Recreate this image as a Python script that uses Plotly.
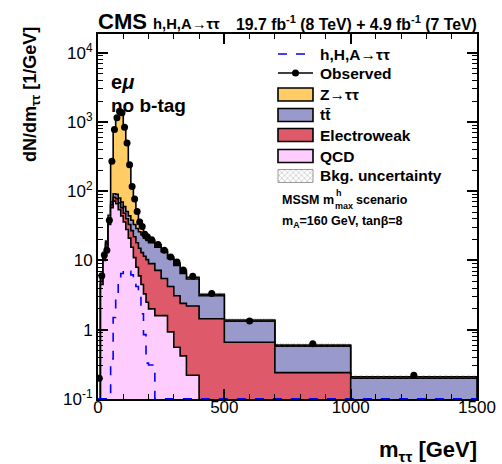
import numpy as np
import plotly.graph_objects as go

# ---------------- data ----------------
bin_edges = [0, 10, 20, 30, 40, 50, 60, 70, 80, 90, 100, 110, 120, 130, 140, 150,
             160, 170, 180, 190, 200, 225, 250, 275, 300, 325, 350, 400, 500, 700,
             1000, 1500]
qcd = [0.05, 4.5, 10, 15.5, 33, 58, 72, 66, 54, 44, 36, 28, 21, 15.5, 11, 8,
       6, 4.5, 3.3, 2.5, 2.0, 1.6, 1.6, 0.93, 0.56, 0.42, 0.22, 0, 0, 0, 0]
ewk = [0.002, 0.5, 1, 1.5, 3, 6, 10, 12, 14, 14, 12, 12, 12, 11.5, 11, 10,
       9, 8.5, 8.2, 7.8, 7.0, 5.6, 3.9, 3.27, 2.54, 1.98, 1.98, 1.44, 0.66, 0.24, 0.05]
ttbar = [0.003, 0.5, 1, 1, 2, 6, 10, 12, 12, 12, 12, 11, 11, 11, 11, 11,
         11, 10.5, 9.5, 9.2, 9.0, 8.3, 7.9, 6.5, 5.4, 4.1, 3.2, 1.66, 0.67, 0.34, 0.15]
ztt = [0.005, 0.5, 1, 1, 7, 195, 678, 1110, 1320, 1230, 800, 439, 201, 84, 43, 23,
       12, 7.5, 4.5, 3.0, 1.5, 1.3, 0.8, 0.5, 0.7, 0.7, 0.3, 0.15, 0.05, 0.02, 0.01]
signal = [0, 0, 0, 0, 0, 0.38, 1.5, 3.2, 5.3, 6.5, 7.2, 7.3, 7.0, 6.2, 5.3, 4.2,
          3.2, 1.7, 0.85, 0.33, 0.31, 0, 0, 0, 0, 0, 0, 0, 0, 0, 0]
observed = [0.2, 6, 12, 14, 38, 270, 776, 1150, 1430, 1360, 840, 497, 241, 117, 77, 51,
            36, 31, 24, 22, 20, 17, 14, 11.2, 9.5, 7.3, 5.9, 3.33, 1.34, 0.63, 0.22]
bkg_unc_rel = 0.07

x_tick_vals = [0, 500, 1000, 1500]
y_tick_vals = [0.1, 1, 10, 100, 1000, 10000]
y_tick_text = ["10<sup>-1</sup>", "1", "10", "10<sup>2</sup>", "10<sup>3</sup>", "10<sup>4</sup>"]

# ---------------- styling / layout constants ----------------
W, H = 502, 464
L, R, T, B = 98, 477, 34, 399          # plot area in pixels
YMIN, YMAX = -1.0, 4.27
FONT = "Liberation Sans, Arial, Helvetica, sans-serif"
C_Z, C_TT, C_EWK, C_QCD = "#FFCC66", "#9999CC", "#DE5A6A", "#FFCCFF"
FLOOR = 1e-4


def PX(px):
    return (px - L) / (R - L)


def PY(py):
    return (B - py) / (B - T)


def step_xy(edges, vals, floor=FLOOR):
    e = np.asarray(edges, float)
    v = np.where(np.asarray(vals, float) > 0, np.asarray(vals, float), floor)
    xs = [e[0]]
    ys = [floor]
    for i in range(len(v)):
        xs += [e[i], e[i + 1]]
        ys += [v[i], v[i]]
    xs.append(e[-1])
    ys.append(floor)
    return np.array(xs), np.array(ys)


edges = np.asarray(bin_edges, float)
centers = 0.5 * (edges[:-1] + edges[1:])
c1 = np.asarray(qcd, float)
c2 = c1 + np.asarray(ewk, float)
c3 = c2 + np.asarray(ttbar, float)
c4 = c3 + np.asarray(ztt, float)

fig = go.Figure()

# stacked histograms, drawn from the top layer down
for cum, col in [(c4, C_Z), (c3, C_TT), (c2, C_EWK), (c1, C_QCD)]:
    xs, ys = step_xy(edges, cum)
    fig.add_trace(go.Scatter(x=xs, y=ys, mode="lines", fill="toself", fillcolor=col,
                             line=dict(color="black", width=1.6), hoverinfo="skip",
                             showlegend=False))

# background uncertainty band (hatched)
xu, yu = step_xy(edges, c4 * (1 + bkg_unc_rel))
xl, yl = step_xy(edges, c4 * (1 - bkg_unc_rel))
bx = np.concatenate([xu[1:-1], xl[1:-1][::-1]])
by = np.concatenate([yu[1:-1], yl[1:-1][::-1]])
fig.add_trace(go.Scatter(x=bx, y=by, mode="lines", fill="toself",
                         fillcolor="rgba(0,0,0,0)", line=dict(width=0),
                         fillpattern=dict(shape="x", fgcolor="#555555", size=4,
                                          solidity=0.15, bgcolor="rgba(0,0,0,0)"),
                         hoverinfo="skip", showlegend=False))

# signal (dashed step line; empty bins drawn on the axis floor)
sig_draw = np.maximum(np.asarray(signal, float), 10 ** YMIN * 1.01)
xs, ys = step_xy(edges, sig_draw)
fig.add_trace(go.Scatter(x=xs[1:-1], y=ys[1:-1], mode="lines",
                         line=dict(color="#0000FF", width=1.6, dash="dash"),
                         hoverinfo="skip", showlegend=False))

# observed
fig.add_trace(go.Scatter(x=centers, y=observed, mode="markers",
                         marker=dict(color="black", size=7), showlegend=False))

# ---------------- legend (manual, in pixel coordinates on overlay axes) ----------------
shapes = []
ann = []


def text(px, py, s, size, bold=True, xanchor="left", yanchor="middle", angle=0):
    ann.append(dict(x=PX(px), y=PY(py), xref="paper", yref="paper",
                    text=(f"<b>{s}</b>" if bold else s), borderpad=0,
                    showarrow=False, xanchor=xanchor, yanchor=yanchor, textangle=angle,
                    font=dict(family=FONT, size=size, color="black")))


LEG = 15.5
lx0, lx1, ltx = 278, 313, 319
# signal entry
shapes.append(dict(type="line", xref="x2", yref="y2", x0=lx0, x1=lx1, y0=54, y1=54,
                   line=dict(color="#0000FF", width=1.6, dash="dash")))
text(ltx, 54, "h,H,A→ττ", LEG)
# observed entry
shapes.append(dict(type="line", xref="x2", yref="y2", x0=lx0, x1=lx1, y0=73, y1=73,
                   line=dict(color="black", width=1.6)))
fig.add_trace(go.Scatter(x=[(lx0 + lx1) / 2], y=[73], xaxis="x2", yaxis="y2", mode="markers",
                         marker=dict(color="black", size=7), showlegend=False, hoverinfo="skip"))
text(ltx, 73, "Observed", LEG)
boxes = [(94.5, C_Z, "Z→ττ"), (115, C_TT, "tt\u0304"), (135, C_EWK, "Electroweak"),
         (156, C_QCD, "QCD")]
for yc, col, lab in boxes:
    shapes.append(dict(type="rect", xref="x2", yref="y2", x0=lx0, x1=lx1, y0=yc - 6.5, y1=yc + 6.5,
                       fillcolor=col, line=dict(color="black", width=1.6)))
    text(ltx, yc, lab, LEG)
# uncertainty entry
yc = 176
fig.add_trace(go.Scatter(x=[lx0, lx1, lx1, lx0, lx0], y=[yc - 6.5, yc - 6.5, yc + 6.5, yc + 6.5, yc - 6.5],
                         xaxis="x2", yaxis="y2", mode="lines", fill="toself",
                         fillcolor="rgba(0,0,0,0)", line=dict(color="#999999", width=1),
                         fillpattern=dict(shape="x", fgcolor="#777777", size=4, solidity=0.15,
                                          bgcolor="white"),
                         showlegend=False, hoverinfo="skip"))
text(ltx, yc, "Bkg. uncertainty", LEG)
# model text (m with stacked h / max)
text(281, 200, "MSSM m", 12.5)
text(335, 193, "h", 9)
text(334, 205.5, "max", 9)
text(355, 200, "scenario", 12.5)
text(281, 222, "m<sub>A</sub>=160 GeV, tanβ=8", 12.5)

# header & labels
text(97, 21, "CMS", 22)
text(152, 23.5, "h,H,A→ττ", 14.8)
text(478, 23, "19.7 fb<sup>-1</sup> (8 TeV) + 4.9 fb<sup>-1</sup> (7 TeV)", 15.8, xanchor="right")
text(110, 82, "e<i>μ</i>", 20)
text(110, 106, "no b-tag", 19)
text(31, 95, "dN/dm<sub>ττ</sub> [1/GeV]", 18, xanchor="center", angle=-90)
text(478, 451, "m<sub>ττ</sub> [GeV]", 22, xanchor="right")

minor_y = [k * 10.0 ** n for n in range(-1, 5) for k in range(2, 10)]

fig.update_layout(
    template="none",
    width=W, height=H,
    margin=dict(l=L, r=W - R, t=T, b=H - B, pad=0, autoexpand=False),
    paper_bgcolor="white", plot_bgcolor="white",
    showlegend=False,
    font=dict(family=FONT, size=17, color="black"),
    xaxis=dict(range=[0, 1500], tickvals=x_tick_vals, ticks="inside", ticklen=10,
               tickwidth=1.5, tickcolor="black", showline=True, linecolor="black",
               linewidth=2, mirror="allticks", showgrid=False, zeroline=False,
               automargin=False,
               tickfont=dict(family=FONT, size=17), ticklabelstandoff=-8,
               minor=dict(dtick=100, ticks="inside", ticklen=5, tickwidth=1,
                          tickcolor="black", showgrid=False)),
    yaxis=dict(type="log", range=[YMIN, YMAX], tickvals=y_tick_vals, ticktext=y_tick_text,
               ticks="inside", ticklen=10, tickwidth=1.5, tickcolor="black",
               showline=True, linecolor="black", linewidth=2, mirror="allticks",
               showgrid=False, zeroline=False, automargin=False,
               tickfont=dict(family=FONT, size=17),
               minor=dict(tickvals=minor_y, ticks="inside", ticklen=5, tickwidth=1,
                          tickcolor="black", showgrid=False)),
    xaxis2=dict(range=[L, R], overlaying="x", visible=False, fixedrange=True, automargin=False),
    yaxis2=dict(range=[B, T], overlaying="y", visible=False, fixedrange=True, automargin=False),
    shapes=shapes,
    annotations=ann,
)

fig.write_html("out.html", config={"displayModeBar": False},
               post_script="document.body.style.margin='0';document.body.style.padding='0';")
